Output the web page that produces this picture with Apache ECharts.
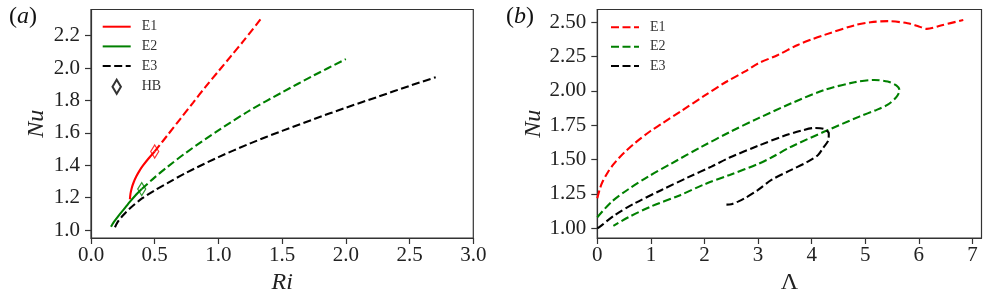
<!DOCTYPE html>
<html>
<head>
<meta charset="utf-8">
<script src="https://cdn.jsdelivr.net/npm/echarts@6/dist/echarts.min.js"></script>
<style>
  html, body { margin: 0; padding: 0; background: #fff; }
  #chart { width: 997px; height: 295px; }
</style>
</head>
<body>
<div id="chart"></div>
<script>
// ---------- Panel (a): Nu vs Ri ----------
const riE1Solid = [0.305, 0.31, 0.32, 0.335, 0.355, 0.38, 0.41, 0.45, 0.50];
const nuE1Solid = [1.19, 1.225, 1.26, 1.295, 1.33, 1.365, 1.40, 1.44, 1.485];
const riE1Dash = [0.50, 0.6, 0.7, 0.8, 0.9, 1.0, 1.1, 1.2, 1.33];
const nuE1Dash = [1.485, 1.585, 1.685, 1.785, 1.885, 1.98, 2.075, 2.17, 2.30];

const riE2Solid = [0.157, 0.18, 0.228, 0.27, 0.306, 0.35, 0.398];
const nuE2Solid = [1.02, 1.05, 1.10, 1.14, 1.175, 1.215, 1.253];
const riE2Dash = [0.398, 0.5, 0.6, 0.75, 1.0, 1.25, 1.5, 1.75, 2.0];
const nuE2Dash = [1.253, 1.325, 1.39, 1.48, 1.615, 1.74, 1.85, 1.955, 2.055];

const riE3 = [0.188, 0.21, 0.25, 0.3, 0.4, 0.5, 0.6, 0.75, 1.0, 1.25, 1.5, 1.75, 2.0, 2.25, 2.5, 2.705];
const nuE3 = [1.017, 1.05, 1.09, 1.13, 1.195, 1.245, 1.29, 1.355, 1.45, 1.535, 1.612, 1.685, 1.755, 1.822, 1.89, 1.943];

const riHB = [0.50, 0.398];
const nuHB = [1.485, 1.253];

const riTicks = [0, 0.5, 1.0, 1.5, 2.0, 2.5, 3.0];
const nuTicksA = [1.0, 1.2, 1.4, 1.6, 1.8, 2.0, 2.2];

// ---------- Panel (b): Nu vs Lambda ----------
const lamE1 = [0, 0.05, 0.1, 0.2, 0.3, 0.4, 0.5, 0.7, 1.0, 1.2, 1.57, 2.0, 2.4, 2.75, 3.0, 3.37, 3.74, 4.0, 4.24, 4.8, 5.1, 5.42, 5.79, 6.0, 6.15, 6.41, 6.83];
const nuE1b = [1.218, 1.29, 1.34, 1.41, 1.465, 1.51, 1.55, 1.62, 1.71, 1.76, 1.855, 1.965, 2.065, 2.14, 2.20, 2.262, 2.335, 2.375, 2.408, 2.478, 2.50, 2.508, 2.493, 2.47, 2.452, 2.476, 2.517];

const lamE2 = [0, 0.27, 0.58, 0.95, 1.39, 1.95, 2.47, 3.0, 3.62, 4.24, 4.8, 5.17, 5.42, 5.58, 5.64, 5.58, 5.42, 5.2, 4.89, 4.24, 3.62, 3.25, 3.0, 2.47, 2.0, 1.51, 1.01, 0.58, 0.3];
const nuE2b = [1.08, 1.194, 1.284, 1.376, 1.473, 1.594, 1.70, 1.80, 1.91, 2.007, 2.063, 2.08, 2.068, 2.04, 2.005, 1.955, 1.90, 1.86, 1.813, 1.704, 1.594, 1.515, 1.468, 1.388, 1.32, 1.235, 1.16, 1.08, 1.017];

const lamE3 = [0, 0.05, 0.33, 0.70, 1.2, 1.70, 2.13, 2.47, 3.0, 3.5, 3.8, 4.05, 4.22, 4.32, 4.31, 4.21, 4.12, 3.93, 3.62, 3.25, 3.0, 2.75, 2.626, 2.5, 2.41];
const nuE3b = [1.0, 1.012, 1.097, 1.182, 1.279, 1.372, 1.449, 1.515, 1.60, 1.675, 1.71, 1.73, 1.725, 1.69, 1.64, 1.583, 1.534, 1.485, 1.425, 1.352, 1.279, 1.218, 1.194, 1.175, 1.172];

const lamTicks = [0, 1, 2, 3, 4, 5, 6, 7];
const nuTicksB = [1.0, 1.25, 1.5, 1.75, 2.0, 2.25, 2.5];

// ---------- helpers ----------
const zip = (xs, ys) => xs.map((x, i) => [x, ys[i]]);
const SERIF = 'Liberation Serif';
const AX = '#333';
const DASH = [8, 3.5];

function lineSeries(name, xs, ys, color, dashed, gi) {
  return {
    type: 'line', name: name, xAxisIndex: gi, yAxisIndex: gi,
    data: zip(xs, ys), symbol: 'none', showSymbol: false, smooth: 0.3,
    lineStyle: { color: color, width: 2.1, type: dashed ? DASH : 'solid' },
    itemStyle: { color: color },
    animation: false, z: 3
  };
}

function xAxisCfg(gi, min, max, ticks, dec, name, italic) {
  return {
    type: 'value', gridIndex: gi, min: min, max: max,
    axisLine: { show: true, onZero: false, lineStyle: { color: AX, width: 1.2 } },
    axisTick: { show: true, inside: false, length: 6, lineStyle: { color: AX, width: 1.2 }, customValues: ticks },
    axisLabel: { customValues: ticks, formatter: v => v.toFixed(dec), fontFamily: SERIF, fontSize: 21, color: '#222', margin: 7 },
    splitLine: { show: false },
    name: name, nameLocation: 'middle', nameGap: 32,
    nameTextStyle: { fontFamily: SERIF, fontSize: 24, fontStyle: italic ? 'italic' : 'normal', color: '#222' }
  };
}
function yAxisCfg(gi, min, max, ticks, dec, gap) {
  return {
    type: 'value', gridIndex: gi, min: min, max: max,
    axisLine: { show: true, onZero: false, lineStyle: { color: AX, width: 1.2 } },
    axisTick: { show: true, inside: false, length: 6, lineStyle: { color: AX, width: 1.2 }, customValues: ticks },
    axisLabel: { customValues: ticks, formatter: v => v.toFixed(dec), fontFamily: SERIF, fontSize: 21, color: '#222', margin: 11 },
    splitLine: { show: false },
    name: 'Nu', nameLocation: 'middle', nameGap: gap,
    nameTextStyle: { fontFamily: SERIF, fontSize: 24, fontStyle: 'italic', color: '#222' }
  };
}

const hbColors = ['#ff0000', '#008000'];
const DIAMOND = 'path://M0,-10 L6,0 L0,10 L-6,0 Z';
const noSym = { opacity: 0 };

const chart = echarts.init(document.getElementById('chart'), null, { renderer: 'canvas' });
chart.setOption({
  animation: false,
  backgroundColor: '#fff',
  grid: [
    { left: 91, top: 9.5, width: 382.3, height: 228.5, show: true, borderColor: AX, borderWidth: 1.2, backgroundColor: 'transparent', containLabel: false, outerBoundsMode: 'none' },
    { left: 597.3, top: 9.5, width: 384.2, height: 228.5, show: true, borderColor: AX, borderWidth: 1.2, backgroundColor: 'transparent', containLabel: false, outerBoundsMode: 'none' }
  ],
  xAxis: [
    xAxisCfg(0, 0, 3, riTicks, 1, 'Ri', true),
    xAxisCfg(1, 0, 7.17, lamTicks, 0, 'Λ', false)
  ],
  yAxis: [
    yAxisCfg(0, 0.951, 2.361, nuTicksA, 1, 42),
    yAxisCfg(1, 0.929, 2.593, nuTicksB, 2, 52)
  ],
  legend: [
    {
      orient: 'vertical', left: 101.7, top: 19.7, padding: 0, itemWidth: 28, itemHeight: 14, itemGap: 5.7,
      textStyle: { fontFamily: SERIF, fontSize: 14, color: '#333', padding: [0, 0, 0, 6] },
      data: [
        { name: 'E1', itemStyle: noSym }, { name: 'E2', itemStyle: noSym }, { name: 'E3', itemStyle: noSym }, { name: 'HB' }
      ],
      selectedMode: false
    },
    {
      orient: 'vertical', left: 610, top: 20.3, padding: 0, itemWidth: 28, itemHeight: 14, itemGap: 5.4,
      textStyle: { fontFamily: SERIF, fontSize: 14, color: '#333', padding: [0, 0, 0, 6] },
      data: [
        { name: 'E1 ', itemStyle: noSym }, { name: 'E2 ', itemStyle: noSym }, { name: 'E3 ', itemStyle: noSym }
      ],
      formatter: n => n.trim(),
      selectedMode: false
    }
  ],
  graphic: [
    { type: 'text', left: 9, top: 5, style: { text: '({it|a})', font: '24px ' + SERIF, fill: '#111', rich: { it: { fontStyle: 'italic', fontSize: 24, fontFamily: SERIF } } } },
    { type: 'text', left: 506, top: 5, style: { text: '({it|b})', font: '24px ' + SERIF, fill: '#111', rich: { it: { fontStyle: 'italic', fontSize: 24, fontFamily: SERIF } } } }
  ],
  series: [
    lineSeries('E1', riE1Solid, nuE1Solid, '#ff0000', false, 0),
    lineSeries('E1', riE1Dash, nuE1Dash, '#ff0000', true, 0),
    lineSeries('E2', riE2Solid, nuE2Solid, '#008000', false, 0),
    lineSeries('E2', riE2Dash, nuE2Dash, '#008000', true, 0),
    lineSeries('E3', riE3, nuE3, '#000000', true, 0),
    {
      type: 'scatter', name: 'HB', xAxisIndex: 0, yAxisIndex: 0,
      symbol: DIAMOND, symbolSize: [8, 13],
      itemStyle: { color: 'rgba(255,255,255,0)', borderColor: '#000', borderWidth: 1.3 },
      data: zip(riHB, nuHB).map((p, i) => ({ value: p, itemStyle: { borderColor: hbColors[i] } })),
      z: 5, animation: false
    },
    lineSeries('E1 ', lamE1, nuE1b, '#ff0000', true, 1),
    lineSeries('E2 ', lamE2, nuE2b, '#008000', true, 1),
    lineSeries('E3 ', lamE3, nuE3b, '#000000', true, 1)
  ]
});
</script>
</body>
</html>
